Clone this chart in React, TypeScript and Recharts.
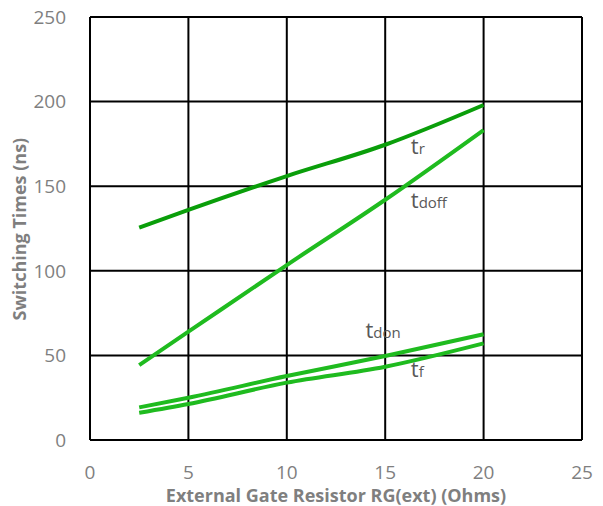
import React from 'react';
import {
  LineChart,
  Line,
  XAxis,
  YAxis,
  CartesianGrid,
  ReferenceDot,
} from 'recharts';

const resistance = [2.5, 5, 10, 15, 20];
const tr = [125.5, 136, 156, 174.5, 198];
const tdoff = [44.3, 64, 103.4, 142, 183.2];
const tdon = [19.3, 25, 37.8, 49.6, 62.5];
const tf = [16.1, 21.3, 33.9, 43.3, 57.1];

const xTicks = [0, 5, 10, 15, 20, 25];
const yTicks = [0, 50, 100, 150, 200, 250];

// series labels: [main, subscript, x, y]
const seriesLabels: [string, string, number, number][] = [
  ['t', 'r', 16.3, 169],
  ['t', 'doff', 16.3, 137],
  ['t', 'don', 14.0, 60.5],
  ['t', 'f', 16.3, 37.5],
];

const chartData = resistance.map((r, i) => ({
  r,
  tr: tr[i],
  tdoff: tdoff[i],
  tdon: tdon[i],
  tf: tf[i],
}));

const FONT = '"Open Sans", "Liberation Sans", sans-serif';

const SubLabel = (main: string, sub: string) => (props: any) => {
  const { viewBox } = props;
  return (
    <text x={viewBox.x} y={viewBox.y} fill="#595959" fontFamily={FONT}>
      <tspan fontSize={22}>{main}</tspan>
      <tspan fontSize={15}>{sub}</tspan>
    </text>
  );
};

export default function App() {
  return (
    <div style={{ position: 'absolute', left: 0, top: 0, background: '#fff' }}>
      <LineChart
        width={603}
        height={506}
        data={chartData}
        margin={{ top: 17, right: 21, left: 30, bottom: 0 }}
      >
        <CartesianGrid stroke="#000" strokeWidth={2} />
        <XAxis
          type="number"
          dataKey="r"
          domain={[0, 25]}
          ticks={xTicks}
          axisLine={false}
          tickLine={false}
          height={66}
          tickMargin={20}
          tick={{ fill: '#7f7f7f', fontSize: 19, fontFamily: FONT }}
          label={{
            value: 'External Gate Resistor RG(ext) (Ohms)',
            position: 'insideBottom',
            offset: 4,
            fill: '#7f7f7f',
            fontSize: 18,
            fontWeight: 'bold',
            fontFamily: FONT,
          }}
        />
        <YAxis
          type="number"
          domain={[0, 250]}
          ticks={yTicks}
          axisLine={false}
          tickLine={false}
          width={60}
          tickMargin={18}
          tick={{ fill: '#7f7f7f', fontSize: 19, fontFamily: FONT }}
          label={{
            value: 'Switching Times (ns)',
            angle: -90,
            position: 'insideLeft',
            offset: -10,
            dy: 92,
            fill: '#7f7f7f',
            fontSize: 18,
            fontWeight: 'bold',
            fontFamily: FONT,
          }}
        />
        <Line type="monotone" dataKey="tr" stroke="#0a9e0a" strokeWidth={4} dot={false} isAnimationActive={false} />
        <Line type="monotone" dataKey="tdoff" stroke="#1fbb1f" strokeWidth={4} dot={false} isAnimationActive={false} />
        <Line type="monotone" dataKey="tdon" stroke="#1fbb1f" strokeWidth={4} dot={false} isAnimationActive={false} />
        <Line type="monotone" dataKey="tf" stroke="#1fbb1f" strokeWidth={4} dot={false} isAnimationActive={false} />
        {seriesLabels.map(([m, s, x, y]) => (
          <ReferenceDot
            key={s}
            x={x}
            y={y}
            r={0}
            stroke="none"
            fill="none"
            label={SubLabel(m, s)}
          />
        ))}
      </LineChart>
    </div>
  );
}
